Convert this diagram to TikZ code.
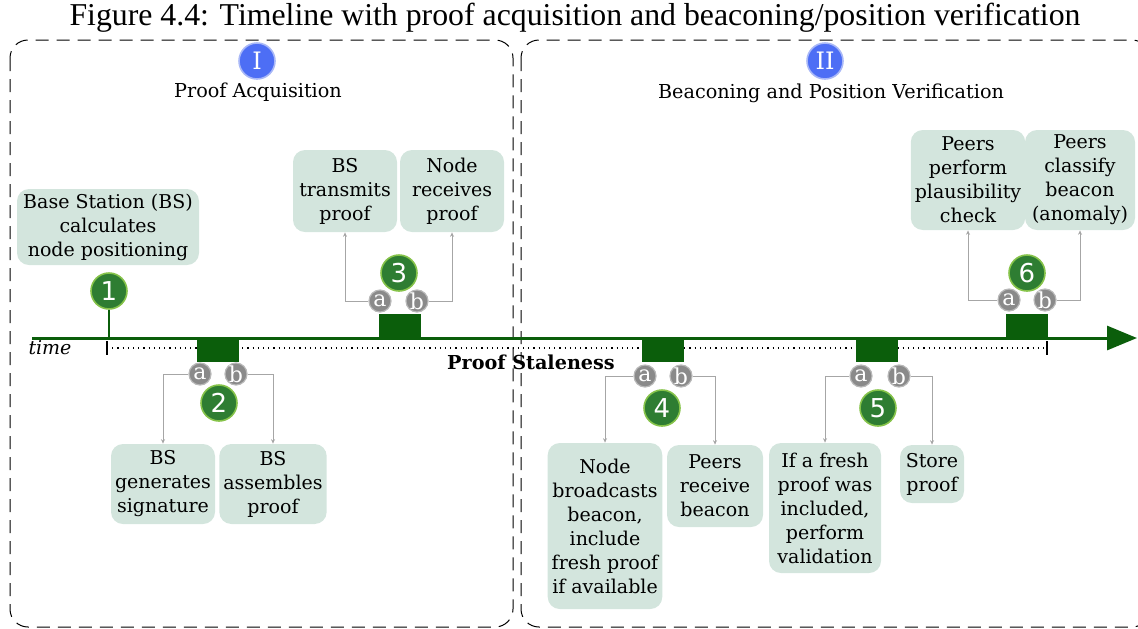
\documentclass[tikz,border=0pt]{standalone}
\usepackage{fontspec}
\setmainfont{DejaVu Serif}
\newfontfamily\titlefont{Liberation Serif}
\newfontfamily\numfont{DejaVu Sans}
\usetikzlibrary{positioning, arrows.meta, calc}
\definecolor{boxbg}{HTML}{D3E5DD}
\definecolor{evgreen}{HTML}{0B5E0B}
\definecolor{dotgreen}{HTML}{2E7D32}
\definecolor{dotrim}{HTML}{86C34A}
\definecolor{subgray}{HTML}{8A8A8A}
\definecolor{subrim}{HTML}{B8B8B8}
\definecolor{phaseblue}{HTML}{4D6EF5}
\definecolor{phaserim}{HTML}{A9B8F7}
\definecolor{linkgray}{HTML}{A6A6A6}
\tikzset{
  stepbox/.style={fill=boxbg, rounded corners=6pt, align=center, inner sep=2pt,
                  font=\fontsize{9.5}{12}\selectfont},
  numdot/.style={circle, fill=dotgreen, draw=dotrim, line width=0.8pt, text=white,
                 minimum size=18pt, inner sep=0pt, font=\numfont\fontsize{13}{13}\selectfont},
  subdot/.style={circle, fill=subgray, draw=subrim, line width=0.6pt, text=white,
                 minimum size=11pt, inner sep=0pt, font=\fontsize{11}{11}\selectfont},
  phase/.style={circle, fill=phaseblue, draw=phaserim, line width=0.8pt, text=white,
                minimum size=18pt, inner sep=0pt, font=\fontsize{12}{12}\selectfont},
  evblock/.style={fill=evgreen, minimum width=21pt, minimum height=12pt, inner sep=0pt},
  link/.style={draw=linkgray, line width=0.4pt, -{Stealth[length=2.2pt, width=2pt]}},
  frame/.style={dashed, dash pattern=on 6.5pt off 4pt, rounded corners=9pt, line width=0.5pt},
  axis/.style={draw=evgreen, line width=1.5pt, -{Triangle[length=15pt, width=12pt]}},
}

\begin{document}
\begin{tikzpicture}[x=0.5pt, y=-0.5pt]
  \useasboundingbox (0,0) rectangle (1138,628);
  % caption
  \node[font=\titlefont\fontsize{15.9}{16}\selectfont] (cap) at (575,18)
    {Figure 4.4: Timeline with proof acquisition and beaconing/position verification};
  % the two phases
  \draw[frame] (10,40) rectangle (513,627);
  \draw[frame] (521,40) rectangle (1150,627);
  \node[phase] (ph1) at (257,61) {I};
  \node[font=\fontsize{9.6}{12}\selectfont] (ph1t) at (258,92) {Proof Acquisition};
  \node[phase] (ph2) at (825,61) {II};
  \node[font=\fontsize{9.6}{12}\selectfont] (ph2t) at (831,93) {Beaconing and Position Verification};
  % time axis
  \coordinate (t0) at (32,338);
  \coordinate (t1) at (1137,338);
  \draw[axis] (t0) -- (t1);
  \node[font=\itshape\fontsize{9.5}{12}\selectfont] (tlab) at (50,348) {time};
  \coordinate (s0) at (107,348);
  \coordinate (s1) at (1047,348);
  \draw[dotted, line width=0.6pt] (s0) -- (s1);
  \draw[line width=0.6pt] ($(s0)+(0,-7)$) -- ($(s0)+(0,7)$);
  \draw[line width=0.6pt] ($(s1)+(0,-7)$) -- ($(s1)+(0,7)$);
  \node[font=\bfseries\fontsize{9.6}{12}\selectfont] (stale) at (531,362) {Proof Staleness};

  % 1
  \node[stepbox, minimum width=91pt, minimum height=38pt] (box1) at (108,227)
    {Base Station (BS)\\calculates\\node positioning};
  \node[numdot] (n1) at (109,291) {1};
  \draw[evgreen, line width=0.8pt] (n1.south) -- (n1.south |- t0);

  % 2
  \node[evblock] (ev2) at (218,350) {};
  \node[subdot] (a2) at (200,374) {a};
  \node[subdot] (b2) at (236,374) {b};
  \node[numdot] (n2) at (219,403) {2};
  \node[stepbox, minimum width=52pt, minimum height=40pt] (box2a) at (163,484)
    {BS\\generates\\signature};
  \node[stepbox, minimum width=52pt, minimum height=40pt] (box2b) at (273,484)
    {BS\\assembles\\proof};
  \draw[link] (a2.west) -| (box2a.north);
  \draw[link] (b2.east) -| (box2b.north);

  % 3
  \node[evblock] (ev3) at (400,326) {};
  \node[subdot] (a3) at (380,301) {a};
  \node[subdot] (b3) at (417,301) {b};
  \node[numdot] (n3) at (399,273) {3};
  \node[stepbox, minimum width=52pt, minimum height=41pt] (box3a) at (345,191)
    {BS\\transmits\\proof};
  \node[stepbox, minimum width=52pt, minimum height=41pt] (box3b) at (452,191)
    {Node\\receives\\proof};
  \draw[link] (a3.west) -| (box3a.south);
  \draw[link] (b3.east) -| (box3b.south);

  % 4
  \node[evblock] (ev4) at (663,350) {};
  \node[subdot] (a4) at (645,376) {a};
  \node[subdot] (b4) at (681,376) {b};
  \node[numdot] (n4) at (662,408) {4};
  \node[stepbox, minimum width=56pt, minimum height=83pt] (box4a) at (605,526)
    {Node\\broadcasts\\beacon,\\include\\fresh proof\\if available};
  \node[stepbox, minimum width=48pt, minimum height=41pt] (box4b) at (715,486)
    {Peers\\receive\\beacon};
  \draw[link] (a4.west) -| (box4a.north);
  \draw[link] (b4.east) -| (box4b.north);

  % 5
  \node[evblock] (ev5) at (877,350) {};
  \node[subdot] (a5) at (861,376) {a};
  \node[subdot] (b5) at (899,376) {b};
  \node[numdot] (n5) at (878,408) {5};
  \node[stepbox, minimum width=56pt, minimum height=65pt] (box5a) at (825,508)
    {If a fresh\\proof was\\included,\\perform\\validation};
  \node[stepbox, minimum width=32pt, minimum height=29pt] (box5b) at (932,474)
    {Store\\proof};
  \draw[link] (a5.west) -| (box5a.north);
  \draw[link] (b5.east) -| (box5b.north);

  % 6
  \node[evblock] (ev6) at (1027,326) {};
  \node[subdot] (a6) at (1009,300) {a};
  \node[subdot] (b6) at (1045,300) {b};
  \node[numdot] (n6) at (1027,273) {6};
  \node[stepbox, minimum width=55pt, minimum height=50pt] (box6a) at (968,180)
    {Peers\\perform\\plausibility\\check};
  \node[stepbox, minimum width=55pt, minimum height=50pt] (box6b) at (1080,180)
    {Peers\\classify\\beacon\\(anomaly)};
  \draw[link] (a6.west) -| (box6a.south);
  \draw[link] (b6.east) -| (box6b.south);
\end{tikzpicture}
\end{document}
